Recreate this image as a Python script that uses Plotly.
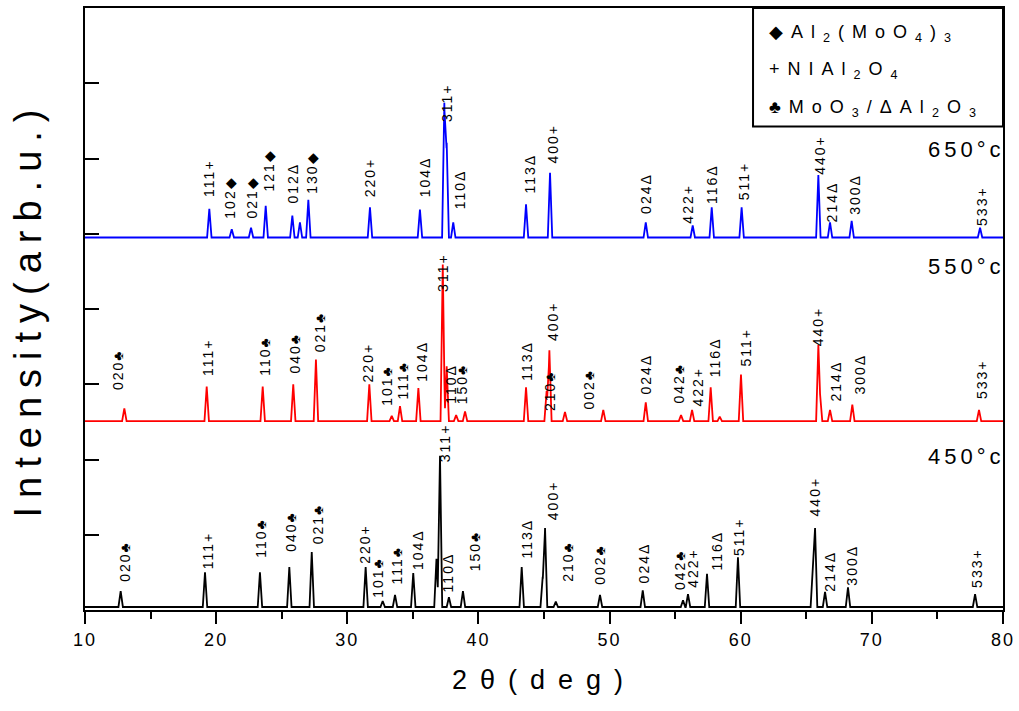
import plotly.graph_objects as go

# ---------------- data ----------------
# baseline levels (arb. units) of the stacked patterns
base_450 = 4
base_550 = 251
base_650 = 495

# peak positions (2θ, deg) and peak heights above baseline (arb. units)
pos_450 = [12.72, 19.15, 23.34, 25.58, 27.29, 31.40, 32.70, 33.64, 35.03, 36.80, 37.07, 37.75,
           38.82, 43.30, 44.90, 45.08, 45.90, 49.27, 52.53, 55.60, 55.98, 57.43, 59.79, 65.50,
           65.67, 66.43, 68.18, 77.87]
int_450 = [21, 46, 46, 53, 73, 53, 8, 16, 45, 64, 201, 13,
           21, 53, 40, 105, 7, 16, 22, 9, 17, 44, 66, 60,
           105, 20, 26, 17]

pos_550 = [13.00, 19.28, 23.55, 25.88, 27.61, 31.68, 33.39, 34.02, 35.42, 37.28, 37.58, 38.30,
           38.98, 43.63, 45.20, 45.41, 46.60, 49.52, 52.76, 55.45, 56.29, 57.71, 58.40, 60.02,
           65.92, 66.05, 66.81, 68.51, 78.17]
int_550 = [17, 46, 46, 49, 82, 49, 7, 20, 44, 208, 73, 8,
           13, 45, 40, 94, 12, 15, 25, 8, 15, 45, 6, 62,
           101, 36, 15, 22, 15]

pos_650 = [19.48, 21.19, 22.66, 23.78, 25.81, 26.39, 27.03, 31.73, 35.54, 37.40, 37.58, 38.08,
           43.63, 45.46, 52.76, 56.34, 57.79, 60.07, 65.92, 66.81, 68.46, 78.25]
int_650 = [38, 11, 13, 42, 29, 20, 50, 40, 37, 179, 126, 20,
           44, 86, 20, 16, 40, 40, 83, 20, 22, 13]

# peak labels (hkl + phase symbol)
lab_450 = ["020♣", "111+", "110♣", "040♣", "021♣", "220+", "101♣", "111♣", "104Δ", "311+", "110Δ",
           "150♣", "113Δ", "400+", "210♣", "002♣", "024Δ", "042♣", "422+", "116Δ", "511+", "440+",
           "214Δ", "300Δ", "533+"]
lab_450_x = [13.05, 19.38, 23.42, 25.71, 27.77, 31.35, 32.34, 33.79, 35.39, 37.45, 37.68,
             39.74, 43.70, 45.69, 46.83, 49.27, 52.63, 55.37, 56.36, 58.19, 59.87, 65.67,
             66.81, 68.49, 78.02]
lab_450_y = [64, 78, 96, 104, 114, 88, 44, 59, 81, 223, 50,
             78, 95, 146, 64, 60, 62, 53, 56, 79, 97, 151,
             51, 59, 56]

lab_550 = ["020♣", "111+", "110♣", "040♣", "021♣", "220+", "101♣", "111♣", "104Δ", "311+", "110Δ",
           "150♣", "113Δ", "400+", "210♣", "002♣", "024Δ", "042♣", "422+", "116Δ", "511+", "440+",
           "214Δ", "300Δ", "533+"]
lab_550_x = [12.52, 19.38, 23.73, 26.01, 27.92, 31.58, 33.03, 34.25, 35.70, 37.30, 37.95,
             38.75, 43.70, 45.69, 45.46, 48.36, 52.78, 55.22, 56.67, 58.04, 60.40, 65.89,
             67.34, 69.10, 78.40]
lab_550_y = [319, 335, 338, 342, 369, 329, 298, 305, 330, 448, 300,
             300, 331, 384, 291, 293, 313, 301, 297, 336, 350, 377,
             305, 313, 307]

lab_650 = ["111+", "102◆", "021◆", "121◆", "012Δ", "130◆", "220+", "104Δ", "311+", "110Δ",
           "113Δ", "400+", "024Δ", "422+", "116Δ", "511+", "440+", "214Δ", "300Δ", "533+"]
lab_650_x = [19.46, 21.06, 22.73, 24.03, 25.86, 27.31, 31.73, 35.93, 37.60, 38.59,
             43.93, 45.69, 52.78, 55.98, 57.81, 60.25, 66.05, 66.96, 68.71, 78.40]
lab_650_y = [573, 548, 548, 584, 568, 581, 575, 575, 675, 559,
             580, 620, 553, 540, 566, 571, 605, 543, 553, 537]

temps = ["650°c", "550°c", "450°c"]
temp_y = [612, 457, 204]

legend_items = ["◆Al<sub>2</sub>(MoO<sub>4</sub>)<sub>3</sub>",
                "+NIAl<sub>2</sub>O<sub>4</sub>",
                "♣MoO<sub>3</sub>/ΔAl<sub>2</sub>O<sub>3</sub>"]

FONT = "Liberation Sans, Arial, sans-serif"


def build_line(base, pos, hts, w=0.17):
    xs = {10.0, 80.0}
    for p in pos:
        xs.update([round(p - w, 4), p, round(p + w, 4)])
    xs = sorted(x for x in xs if 10 <= x <= 80)
    ys = []
    for x in xs:
        v = 0.0
        for p, h in zip(pos, hts):
            d = abs(x - p)
            if d < w:
                v = max(v, h * (1 - d / w))
        ys.append(base + v)
    return xs, ys


fig = go.Figure()
for base, pos, hts, col, name in [(base_450, pos_450, int_450, "#000000", "450°c"),
                                  (base_550, pos_550, int_550, "#ff0000", "550°c"),
                                  (base_650, pos_650, int_650, "#0000ff", "650°c")]:
    xs, ys = build_line(base, pos, hts)
    fig.add_trace(go.Scatter(x=xs, y=ys, mode="lines", name=name,
                             line=dict(color=col, width=1.8), showlegend=False))

annotations = []
for labs, lx, ly in [(lab_450, lab_450_x, lab_450_y),
                     (lab_550, lab_550_x, lab_550_y),
                     (lab_650, lab_650_x, lab_650_y)]:
    for t, x, y in zip(labs, lx, ly):
        annotations.append(dict(x=x, y=y, xref="x", yref="y", text=t, showarrow=False,
                                textangle=-90, xanchor="center", yanchor="middle",
                                font=dict(family=FONT, size=14, color="black")))
n_peak = len(annotations)

for t, y in zip(temps, temp_y):
    annotations.append(dict(x=1.004, y=y, xref="paper", yref="y", text=t, showarrow=False,
                            xanchor="right", yanchor="middle", align="right",
                            font=dict(family=FONT, size=22, color="black")))

leg_y = [0.957, 0.897, 0.833]
for t, y in zip(legend_items, leg_y):
    annotations.append(dict(x=0.743, y=y, xref="paper", yref="paper", text=t, showarrow=False,
                            xanchor="left", yanchor="middle", align="left",
                            font=dict(family=FONT, size=18, color="black")))

fig.update_layout(
    width=1019, height=711,
    margin=dict(l=85, r=16, t=6, b=101),
    paper_bgcolor="white", plot_bgcolor="white",
    annotations=annotations,
    shapes=[dict(type="rect", xref="paper", yref="paper", x0=0.7277, x1=1.0, y0=0.803, y1=1.0,
                 line=dict(color="black", width=2), fillcolor="rgba(0,0,0,0)")],
    xaxis=dict(range=[10, 80], dtick=10, tick0=10, ticks="outside", ticklen=12, tickwidth=2,
               tickcolor="black", showline=True, linewidth=2, linecolor="black", mirror=True,
               showgrid=False, zeroline=False,
               minor=dict(dtick=5, ticks="outside", ticklen=7, tickwidth=1.5, tickcolor="black"),
               tickfont=dict(family=FONT, size=18, color="black"),
               title=dict(text="2θ(deg)", font=dict(family=FONT, size=27, color="black"),
                          standoff=22)),
    yaxis=dict(range=[0, 800], dtick=100, tick0=0, ticks="inside", ticklen=14, tickwidth=2,
               tickcolor="black", showticklabels=False, showline=True, linewidth=2,
               linecolor="black", mirror=True, showgrid=False, zeroline=False,
               title=dict(text="Intensity(arb.u.)", font=dict(family=FONT, size=38, color="black"),
                          standoff=30)),
)

post = """
document.body.style.margin = '0';
document.body.style.overflow = 'hidden';
var gd = document.getElementById('{plot_id}');
function sp(sel, v) { gd.querySelectorAll(sel).forEach(function (e) { e.style.letterSpacing = v; }); }
sp('text.xtitle', '13px');
sp('text.ytitle', '9px');
sp('.xtick text', '2px');
gd.querySelectorAll('g.annotation').forEach(function (g) {
  var i = parseInt(g.getAttribute('data-index'));
  var t = g.querySelector('text.annotation-text');
  if (!t) return;
  if (i < NPEAK) { t.style.letterSpacing = '2px'; }
  else if (i < NPEAK + 3) { t.style.letterSpacing = '4px'; }
  else { t.style.letterSpacing = '8px'; }
});
""".replace("NPEAK", str(n_peak))

fig.write_html("out.html", post_script=post, config={"displayModeBar": False})
